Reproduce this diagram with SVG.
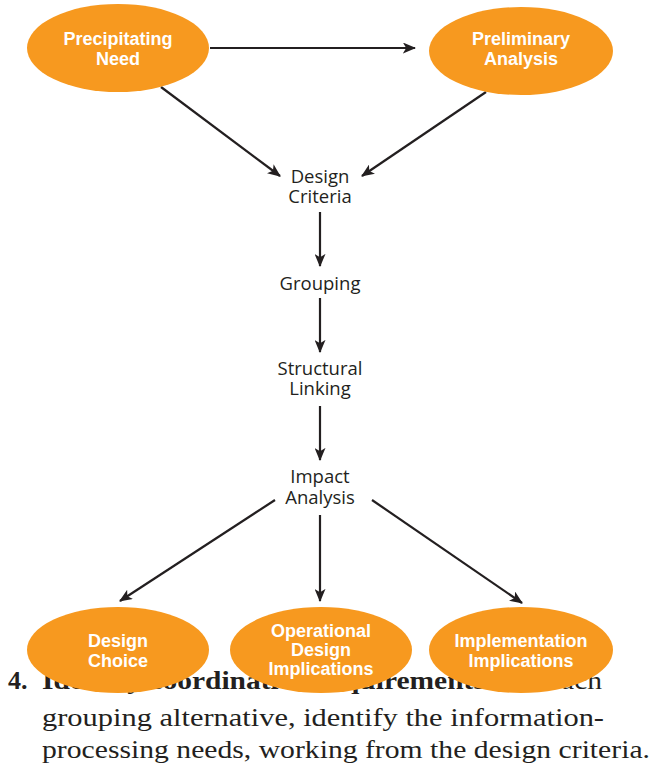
<svg xmlns="http://www.w3.org/2000/svg" width="654" height="768" viewBox="0 0 654 768">
<style>
.oval{fill:#F7991F;}
.ot{font-family:"Liberation Sans",Arial,sans-serif;font-weight:bold;font-size:18px;fill:#fff;text-anchor:middle;}
.lb{font-family:"Open Sans","Noto Sans",sans-serif;font-size:18.5px;fill:#231f20;text-anchor:middle;}
.bt{font-family:"Liberation Serif","Times New Roman",serif;font-size:26px;fill:#231f20;}
.cn{stroke:#231f20;stroke-width:2.2;fill:none;marker-end:url(#ah);}
</style>
<defs>
<marker id="ah" viewBox="0 0 12 10" refX="11" refY="5" markerWidth="6" markerHeight="5" orient="auto" markerUnits="strokeWidth">
<path d="M0,0 L12,5 L0,10 L3,5 Z" fill="#231f20"/>
</marker>
</defs>
<rect width="654" height="768" fill="#fff"/>
<g id="body-text">
<text class="bt" x="8" y="689"><tspan font-weight="bold">4.</tspan></text>
<text class="bt" x="42" y="689" textLength="560" lengthAdjust="spacingAndGlyphs"><tspan font-weight="bold">Identify coordination requirements.</tspan> For each</text>
<text class="bt" x="42" y="726" textLength="562" lengthAdjust="spacingAndGlyphs">grouping alternative, identify the information-</text>
<text class="bt" x="42" y="758" textLength="608" lengthAdjust="spacingAndGlyphs">processing needs, working from the design criteria.</text>
</g>
<g id="connectors">
<line class="cn" x1="210" y1="48" x2="415" y2="48"/>
<line class="cn" x1="161" y1="87" x2="280" y2="176"/>
<line class="cn" x1="486" y1="92" x2="362" y2="176"/>
<line class="cn" x1="320" y1="212" x2="320" y2="266"/>
<line class="cn" x1="320" y1="298" x2="320" y2="352"/>
<line class="cn" x1="320" y1="406" x2="320" y2="460"/>
<line class="cn" x1="275" y1="500" x2="120" y2="601"/>
<line class="cn" x1="320" y1="515" x2="320" y2="601"/>
<line class="cn" x1="372" y1="500" x2="522" y2="603"/>
</g>
<g id="precipitating-need">
<ellipse class="oval" cx="118" cy="48" rx="91" ry="44"/>
<text class="ot" x="118" y="45">Precipitating</text>
<text class="ot" x="118" y="65">Need</text>
</g>
<g id="preliminary-analysis">
<ellipse class="oval" cx="521" cy="51" rx="92" ry="44"/>
<text class="ot" x="521" y="45">Preliminary</text>
<text class="ot" x="521" y="65">Analysis</text>
</g>
<g id="design-criteria">
<text class="lb" x="320" y="183">Design</text>
<text class="lb" x="320" y="203">Criteria</text>
</g>
<g id="grouping">
<text class="lb" x="320" y="290">Grouping</text>
</g>
<g id="structural-linking">
<text class="lb" x="320" y="375">Structural</text>
<text class="lb" x="320" y="395">Linking</text>
</g>
<g id="impact-analysis">
<text class="lb" x="320" y="483">Impact</text>
<text class="lb" x="320" y="504">Analysis</text>
</g>
<g id="design-choice">
<ellipse class="oval" cx="118" cy="650" rx="91" ry="43"/>
<text class="ot" x="118" y="647">Design</text>
<text class="ot" x="118" y="667">Choice</text>
</g>
<g id="operational-design-implications">
<ellipse class="oval" cx="321" cy="650" rx="91" ry="43"/>
<text class="ot" x="321" y="637">Operational</text>
<text class="ot" x="321" y="656">Design</text>
<text class="ot" x="321" y="675">Implications</text>
</g>
<g id="implementation-implications">
<ellipse class="oval" cx="521" cy="650" rx="92" ry="43"/>
<text class="ot" x="521" y="647">Implementation</text>
<text class="ot" x="521" y="667">Implications</text>
</g>
</svg>
